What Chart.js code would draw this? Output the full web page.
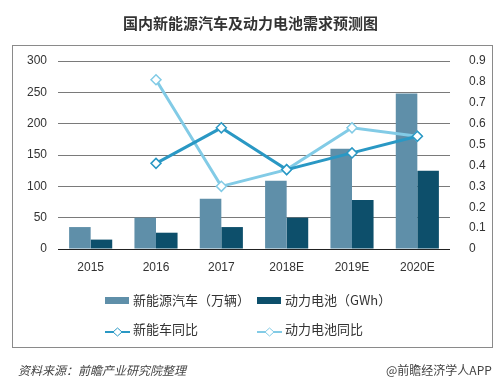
<!DOCTYPE html>
<html>
<head>
<meta charset="utf-8">
<script src="https://cdn.jsdelivr.net/npm/chart.js@4"></script>
<style>
  body { margin: 0; }
  canvas { display: block; }
  #title { position: absolute; left: 0; width: 501px; top: 12px; text-align: center;
           font: bold 15px "Noto Sans CJK SC", sans-serif; color: #333; }
  #frame { position: absolute; left: 12px; top: 45px; width: 479px; height: 301px;
           border: 1px solid #8a8a8a; pointer-events: none; }
  .lg { position: absolute; font: 13px "Noto Sans CJK SC", sans-serif; color: #333;
        line-height: 16px; white-space: nowrap; }
  .box { position: absolute; width: 24px; height: 7px; }
  .src { position: absolute; top: 361px; font: 12px "Noto Sans CJK SC", sans-serif; color: #444; }
</style>
</head>
<body>
<canvas id="chart" width="501" height="386"></canvas>
<div id="title">国内新能源汽车及动力电池需求预测图</div>
<div id="frame"></div>
<div class="src" style="left:18px; font-style:italic;">资料来源：前瞻产业研究院整理</div>
<div class="src" style="left:386px;">@前瞻经济学人APP</div>
<script>
// categories and values
const years = ['2015', '2016', '2017', '2018E', '2019E', '2020E'];
const evSales = [35, 50, 80, 109, 160, 248];        // 新能源汽车（万辆）
const batteryGwh = [15, 26, 35, 50, 78, 125];        // 动力电池（GWh）
const evYoy = [null, 0.41, 0.58, 0.38, 0.46, 0.54];      // 新能车同比
const batteryYoy = [null, 0.81, 0.30, 0.38, 0.58, 0.54]; // 动力电池同比

const leftMax = 300, leftStep = 50;
const rightMax = 0.9, rightStep = 0.1;

const colors = {
  ev: '#5f8fa9',
  battery: '#0d4f6b',
  evYoy: '#2a98c4',
  batteryYoy: '#82cbe6'
};

const names = ['新能源汽车（万辆）', '动力电池（GWh）', '新能车同比', '动力电池同比'];

// legend in two rows, as in the picture
const items = [
  { x: 105, y: 301, kind: 'box', color: colors.ev, text: names[0] },
  { x: 257, y: 301, kind: 'box', color: colors.battery, text: names[1] },
  { x: 105, y: 330, kind: 'line', color: colors.evYoy, text: names[2] },
  { x: 257, y: 330, kind: 'line', color: colors.batteryYoy, text: names[3] }
];
items.forEach(it => {
  const sym = document.createElement('div');
  if (it.kind === 'box') {
    sym.className = 'box';
    sym.style.left = it.x + 'px';
    sym.style.top = (it.y - 4) + 'px';
    sym.style.background = it.color;
  } else {
    sym.style.position = 'absolute';
    sym.style.left = it.x + 'px';
    sym.style.top = (it.y - 6) + 'px';
    sym.innerHTML = '<svg width="25" height="12"><line x1="0" y1="6" x2="25" y2="6" stroke="' + it.color +
      '" stroke-width="2"/><path d="M12.5 2 L17 6 L12.5 10 L8 6 Z" fill="#fff" stroke="' + it.color + '" stroke-width="1"/></svg>';
  }
  document.body.appendChild(sym);
  const txt = document.createElement('div');
  txt.className = 'lg';
  txt.style.left = (it.x + 28) + 'px';
  txt.style.top = (it.y - 9) + 'px';
  txt.textContent = it.text;
  document.body.appendChild(txt);
});

const lineStyle = (color) => ({
  type: 'line',
  yAxisID: 'y1',
  borderColor: color,
  borderWidth: 3,
  pointStyle: 'rectRot',
  pointRadius: 5,
  pointBorderWidth: 1.5,
  pointBackgroundColor: '#fff',
  pointBorderColor: color,
  tension: 0,
  order: 1
});

new Chart(document.getElementById('chart'), {
  type: 'bar',
  data: {
    labels: years,
    datasets: [
      Object.assign(lineStyle(colors.evYoy), { label: names[2], data: evYoy }),
      Object.assign(lineStyle(colors.batteryYoy), { label: names[3], data: batteryYoy }),
      { label: names[0], data: evSales, backgroundColor: colors.ev, yAxisID: 'y',
        categoryPercentage: 0.66, barPercentage: 1, order: 2 },
      { label: names[1], data: batteryGwh, backgroundColor: colors.battery, yAxisID: 'y',
        categoryPercentage: 0.66, barPercentage: 1, order: 2 }
    ]
  },
  options: {
    responsive: false,
    animation: false,
    layout: { padding: { left: 12, right: 12, top: 61, bottom: 107 } },
    plugins: {
      legend: { display: false },
      tooltip: { enabled: false }
    },
    scales: {
      x: {
        grid: { display: false },
        border: { display: false },
        ticks: { color: '#333', font: { size: 12 }, padding: 3 },
        afterFit: (s) => { s.height = 30; }
      },
      y: {
        position: 'left',
        min: 0, max: leftMax,
        grid: {
          color: (ctx) => (ctx.tick && ctx.tick.value === 0) ? '#222' : '#7a7a7a',
          lineWidth: 1,
          drawTicks: false
        },
        border: { display: false },
        ticks: { stepSize: leftStep, color: '#333', font: { size: 12 }, padding: 11 },
        afterFit: (s) => { s.width = 46; }
      },
      y1: {
        position: 'right',
        min: 0, max: rightMax,
        grid: { display: false },
        border: { display: false },
        ticks: {
          stepSize: rightStep,
          color: '#333',
          font: { size: 12 },
          padding: 11,
          callback: (v) => v === 0 ? '0' : v.toFixed(1)
        },
        afterFit: (s) => { s.width = 39; }
      }
    }
  }
});
</script>
</body>
</html>
